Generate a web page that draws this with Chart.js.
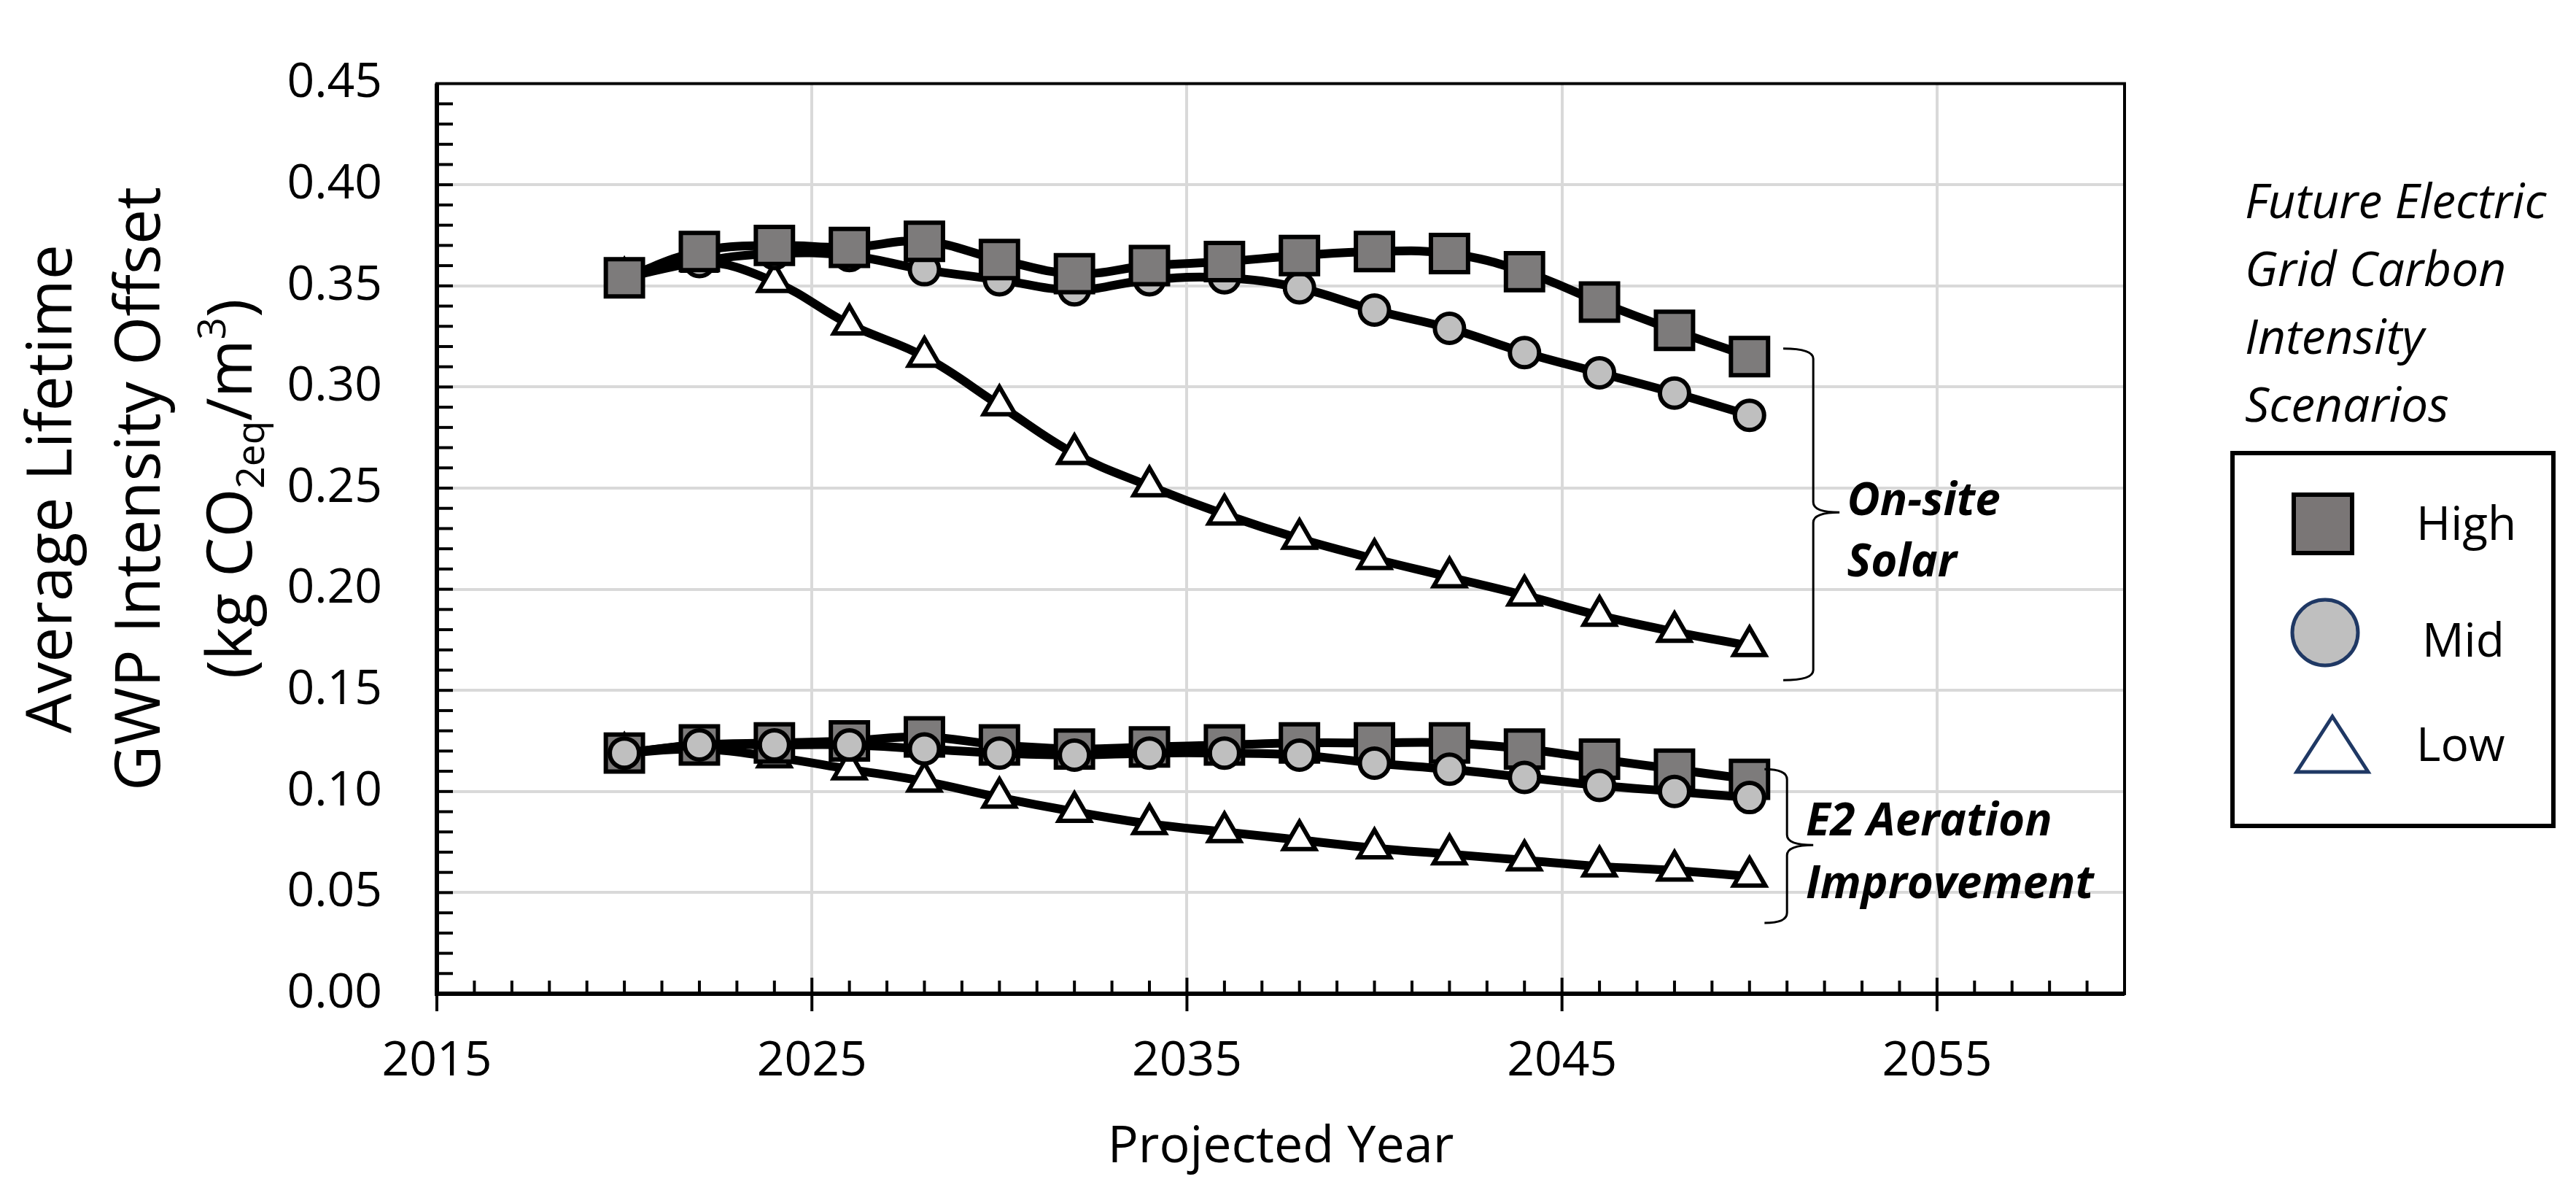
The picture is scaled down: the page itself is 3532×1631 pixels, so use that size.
<!DOCTYPE html>
<html>
<head>
<meta charset="utf-8">
<script src="https://cdn.jsdelivr.net/npm/chart.js@4.4.1/dist/chart.umd.min.js"></script>
<style>
  html, body { margin: 0; padding: 0; background: #fff; }
  #wrap { width: 3532px; height: 1631px; }
</style>
</head>
<body>
<div id="wrap"><canvas id="chart" width="3532" height="1631"></canvas></div>
<script>
// projected years, one point every two years
const years = [2020, 2022, 2024, 2026, 2028, 2030, 2032, 2034, 2036, 2038, 2040, 2042, 2044, 2046, 2048, 2050];

// On-site solar, by grid carbon intensity scenario
const solarHigh = [0.354, 0.367, 0.370, 0.369, 0.372, 0.363, 0.356, 0.360, 0.362, 0.365, 0.367, 0.366, 0.357, 0.342, 0.328, 0.315];
const solarMid  = [0.354, 0.362, 0.366, 0.365, 0.358, 0.353, 0.348, 0.353, 0.354, 0.349, 0.338, 0.329, 0.317, 0.307, 0.297, 0.286];
const solarLow  = [0.354, 0.362, 0.352, 0.331, 0.315, 0.291, 0.267, 0.251, 0.237, 0.225, 0.215, 0.206, 0.197, 0.187, 0.179, 0.172];

// E2 aeration improvement
const e2High = [0.119, 0.123, 0.124, 0.125, 0.127, 0.123, 0.121, 0.122, 0.123, 0.124, 0.124, 0.124, 0.121, 0.116, 0.111, 0.106];
const e2Mid  = [0.119, 0.123, 0.123, 0.123, 0.121, 0.119, 0.118, 0.119, 0.119, 0.118, 0.114, 0.111, 0.107, 0.103, 0.100, 0.097];
const e2Low  = [0.119, 0.121, 0.117, 0.111, 0.105, 0.097, 0.090, 0.084, 0.080, 0.076, 0.072, 0.069, 0.066, 0.063, 0.061, 0.058];

// axis ticks
const xTickLabels = [2015, 2025, 2035, 2045, 2055];
const yTickLabels = [0.00, 0.05, 0.10, 0.15, 0.20, 0.25, 0.30, 0.35, 0.40, 0.45];

const scenarioNames = ['High', 'Mid', 'Low'];
const legendTitle = ['Future Electric', 'Grid Carbon', 'Intensity', 'Scenarios'];
const yTitle = ['Average Lifetime', 'GWP Intensity Offset'];
const xTitle = 'Projected Year';

const FONT = '"Open Sans", "Noto Sans", sans-serif';
const NAVY = '#1f3864';

// marker styles per scenario
const styles = {
  High: { pointStyle: 'rect', pointRadius: 36, pointBackgroundColor: '#7d7b7b' },
  Mid:  { pointStyle: 'circle', pointRadius: 20, pointBackgroundColor: '#bfbfbf' },
  Low:  { pointStyle: 'triangle', pointRadius: 25, pointBackgroundColor: '#ffffff' }
};

function series(label, scenario, values) {
  return Object.assign({
    label: label,
    data: years.map((x, i) => ({ x: x, y: values[i] })),
    borderColor: '#000',
    borderWidth: 12,
    tension: 0.4,
    pointBorderColor: '#000',
    pointBorderWidth: 6
  }, styles[scenario]);
}

// first dataset is painted last (on top)
const datasets = [
  series('On-site Solar High', 'High', solarHigh),
  series('On-site Solar Mid', 'Mid', solarMid),
  series('On-site Solar Low', 'Low', solarLow),
  series('E2 Aeration Mid', 'Mid', e2Mid),
  series('E2 Aeration High', 'High', e2High),
  series('E2 Aeration Low', 'Low', e2Low)
];

// braces and group labels, placed in data units
const groups = [
  { lines: ['On-site', 'Solar'], textX: 2052.6, textY: [0.2432, 0.2127],
    brace: { x0: 2050.9, x1: 2051.7, tip: 2052.4, top: 0.319, mid: 0.238, bottom: 0.155 } },
  { lines: ['E2 Aeration', 'Improvement'], textX: 2051.5, textY: [0.0845, 0.0536],
    brace: { x0: 2050.4, x1: 2051.0, tip: 2051.7, top: 0.111, mid: 0.0735, bottom: 0.035 } }
];

function drawRotated(ctx, parts, cx, cy, size) {
  ctx.save();
  ctx.translate(cx, cy);
  ctx.rotate(-Math.PI / 2);
  ctx.textAlign = 'left';
  ctx.textBaseline = 'alphabetic';
  ctx.fillStyle = '#000';
  let total = 0;
  parts.forEach(p => {
    ctx.font = (p.sub || p.sup ? size * 0.62 : size) + 'px ' + FONT;
    p.w = ctx.measureText(p.t).width;
    total += p.w;
  });
  let x = -total / 2;
  parts.forEach(p => {
    ctx.font = (p.sub || p.sup ? size * 0.62 : size) + 'px ' + FONT;
    let dy = size * 0.36;
    if (p.sub) dy += size * 0.2;
    if (p.sup) dy -= size * 0.42;
    ctx.fillText(p.t, x, dy);
    x += p.w;
  });
  ctx.restore();
}

function drawBrace(ctx, xs, ys, b) {
  const x0 = xs.getPixelForValue(b.x0), x1 = xs.getPixelForValue(b.x1), tip = xs.getPixelForValue(b.tip);
  const top = ys.getPixelForValue(b.top), mid = ys.getPixelForValue(b.mid), bot = ys.getPixelForValue(b.bottom);
  const r = 14;
  ctx.beginPath();
  ctx.moveTo(x0, top);
  ctx.quadraticCurveTo(x1, top, x1, top + r);
  ctx.lineTo(x1, mid - r);
  ctx.quadraticCurveTo(x1, mid, tip, mid);
  ctx.quadraticCurveTo(x1, mid, x1, mid + r);
  ctx.lineTo(x1, bot - r);
  ctx.quadraticCurveTo(x1, bot, x0, bot);
  ctx.stroke();
}

const decor = {
  id: 'decor',
  beforeDatasetsDraw(chart) {
    const ctx = chart.ctx, a = chart.chartArea;
    const xs = chart.scales.x, ys = chart.scales.y;
    ctx.save();
    ctx.strokeStyle = '#000';
    ctx.lineCap = 'butt';
    // minor / major tick marks
    ctx.lineWidth = 4;
    for (let yr = xs.min + 1; yr < xs.max; yr++) {
      const px = xs.getPixelForValue(yr);
      const major = xTickLabels.indexOf(yr) >= 0;
      ctx.beginPath();
      ctx.moveTo(px, a.bottom - (major ? 22 : 18));
      ctx.lineTo(px, major ? a.bottom + 24 : a.bottom);
      ctx.stroke();
    }
    ctx.beginPath();
    ctx.moveTo(a.left, a.bottom);
    ctx.lineTo(a.left, a.bottom + 24);
    ctx.stroke();
    for (let k = 1; k < 45; k++) {
      const py = ys.getPixelForValue(k / 100);
      ctx.beginPath();
      ctx.moveTo(a.left, py);
      ctx.lineTo(a.left + 22, py);
      ctx.stroke();
    }
    // frame
    ctx.lineWidth = 4;
    ctx.strokeRect(a.left, a.top, a.right - a.left, a.bottom - a.top);
    ctx.lineWidth = 6;
    ctx.beginPath();
    ctx.moveTo(a.left, a.top);
    ctx.lineTo(a.left, a.bottom);
    ctx.lineTo(a.right, a.bottom);
    ctx.stroke();
    ctx.restore();
  },
  afterDraw(chart) {
    const ctx = chart.ctx, a = chart.chartArea;
    const xs = chart.scales.x, ys = chart.scales.y;
    ctx.save();
    ctx.fillStyle = '#000';

    // y axis title, three rotated lines
    const cy = 670, size = 86;
    drawRotated(ctx, [{ t: yTitle[0] }], 67, cy, size);
    drawRotated(ctx, [{ t: yTitle[1] }], 188, cy, size);
    drawRotated(ctx, [{ t: '(kg CO' }, { t: '2eq', sub: true }, { t: '/m' }, { t: '3', sup: true }, { t: ')' }], 314, cy, size);

    // x axis title
    ctx.font = '70px ' + FONT;
    ctx.textAlign = 'center';
    ctx.textBaseline = 'alphabetic';
    ctx.fillText(xTitle, (a.left + a.right) / 2, 1593);

    // group braces and labels
    ctx.strokeStyle = '#000';
    ctx.lineWidth = 3;
    ctx.textAlign = 'left';
    ctx.textBaseline = 'middle';
    ctx.font = 'italic bold 62px ' + FONT;
    groups.forEach(g => {
      drawBrace(ctx, xs, ys, g.brace);
      g.lines.forEach((t, i) => ctx.fillText(t, xs.getPixelForValue(g.textX), ys.getPixelForValue(g.textY[i])));
    });

    // legend title
    ctx.font = 'italic 66px ' + FONT;
    ctx.textBaseline = 'alphabetic';
    legendTitle.forEach((t, i) => ctx.fillText(t, 3078, 299 + i * 93));

    // legend box
    ctx.lineWidth = 6;
    ctx.strokeRect(3061, 621, 440, 511);

    // legend entries
    ctx.font = '64px ' + FONT;
    // High
    ctx.fillStyle = '#7a7676';
    ctx.fillRect(3145, 678, 80, 80);
    ctx.lineWidth = 6;
    ctx.strokeStyle = '#000';
    ctx.strokeRect(3145, 678, 80, 80);
    // Mid
    ctx.beginPath();
    ctx.arc(3188, 867, 45, 0, Math.PI * 2);
    ctx.fillStyle = '#bfbfbf';
    ctx.fill();
    ctx.lineWidth = 5;
    ctx.strokeStyle = NAVY;
    ctx.stroke();
    // Low
    ctx.beginPath();
    ctx.moveTo(3198, 982);
    ctx.lineTo(3247, 1058);
    ctx.lineTo(3149, 1058);
    ctx.closePath();
    ctx.fillStyle = '#fff';
    ctx.fill();
    ctx.lineJoin = 'miter';
    ctx.stroke();

    ctx.fillStyle = '#000';
    ctx.fillText(scenarioNames[0], 3313, 740);
    ctx.fillText(scenarioNames[1], 3321, 900);
    ctx.fillText(scenarioNames[2], 3313, 1043);
    ctx.restore();
  }
};

new Chart(document.getElementById('chart'), {
  type: 'line',
  data: { datasets: datasets },
  options: {
    responsive: false,
    devicePixelRatio: 1,
    animation: false,
    layout: { padding: { left: 0, top: 53, right: 619, bottom: 0 } },
    plugins: { legend: { display: false }, tooltip: { enabled: false } },
    scales: {
      x: {
        type: 'linear',
        min: 2015,
        max: 2060,
        afterBuildTicks: s => { s.ticks = xTickLabels.map(v => ({ value: v })); },
        afterFit: s => { s.height = 269; },
        border: { display: false },
        grid: {
          color: c => (c.tick && c.tick.value === 2015 ? 'rgba(0,0,0,0)' : '#d9d9d9'),
          lineWidth: 4,
          drawTicks: false
        },
        ticks: {
          padding: 54,
          color: '#000',
          font: { family: FONT, size: 66 },
          maxRotation: 0,
          autoSkip: false,
          callback: v => String(v)
        }
      },
      y: {
        type: 'linear',
        min: 0,
        max: 0.45,
        afterBuildTicks: s => { s.ticks = yTickLabels.map(v => ({ value: v })); },
        afterFit: s => { s.width = 599; },
        border: { display: false },
        grid: {
          color: c => (c.tick && (c.tick.value === 0 || c.tick.value === 0.45) ? 'rgba(0,0,0,0)' : '#d9d9d9'),
          lineWidth: 4,
          drawTicks: false
        },
        ticks: {
          padding: 75,
          color: '#000',
          font: { family: FONT, size: 66 },
          autoSkip: false,
          callback: v => Number(v).toFixed(2)
        }
      }
    }
  },
  plugins: [decor]
});
</script>
</body>
</html>
